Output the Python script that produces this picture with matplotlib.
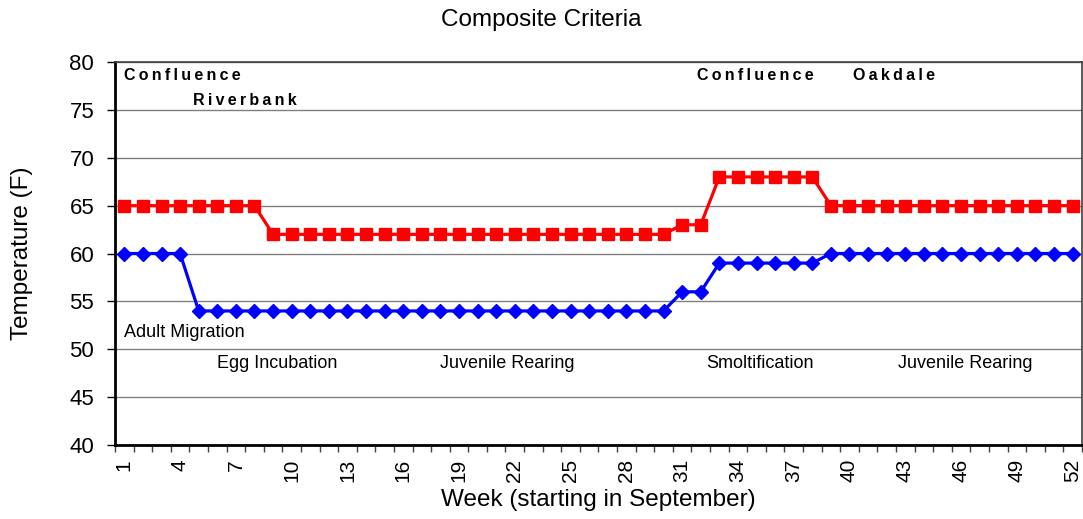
import matplotlib
matplotlib.use('Agg')
import matplotlib.pyplot as plt
from matplotlib.ticker import FixedLocator

plt.rcParams['font.family'] = ['Liberation Sans', 'DejaVu Sans']

# data
weeks = list(range(1, 53))
upper = [65] * 8 + [62] * 22 + [63] * 2 + [68] * 6 + [65] * 14
lower = [60] * 4 + [54] * 26 + [56] * 2 + [59] * 6 + [60] * 14
tick_weeks = list(range(1, 53, 3))

site_labels = [('Confluence', 1.0, 78.6), ('Riverbank', 4.7, 76.0),
               ('Confluence', 31.8, 78.6), ('Oakdale', 40.2, 78.6)]
stage_labels = [('Adult Migration', 1.0, 51.7), ('Egg Incubation', 6.0, 48.5),
                ('Juvenile Rearing', 18.0, 48.5), ('Smoltification', 32.3, 48.5),
                ('Juvenile Rearing', 42.6, 48.5)]

fig = plt.figure(figsize=(10.83, 5.19), dpi=100)
ax = fig.add_axes([0.1062, 0.1426, 0.8928, 0.7379])

ax.plot(weeks, upper, color='#ff0000', lw=2.3, marker='s', ms=9, mec='#ff0000', clip_on=False, zorder=3)
ax.plot(weeks, lower, color='#0000ff', lw=2.3, marker='D', ms=7.5, mec='#0000ff', clip_on=False, zorder=3)

ax.set_xlim(0.5, 52.5)
ax.set_ylim(40, 80)
ax.set_yticks(range(40, 81, 5))
ax.yaxis.grid(True, color='#808080', lw=1)
ax.set_axisbelow(True)

ax.xaxis.set_major_locator(FixedLocator(tick_weeks))
ax.set_xticklabels([str(w) for w in tick_weeks], rotation=90, fontsize=15)
ax.xaxis.set_minor_locator(FixedLocator([w + 0.5 for w in range(0, 53)]))
ax.tick_params(axis='x', which='major', length=0, pad=10)
ax.tick_params(axis='x', which='minor', length=5, width=1, color='#404040')
ax.tick_params(axis='y', length=6, width=1, pad=9, labelsize=16)

for s in ['left', 'bottom']:
    ax.spines[s].set_linewidth(2)
    ax.spines[s].set_color('black')
for s in ['top', 'right']:
    ax.spines[s].set_linewidth(1.2)
    ax.spines[s].set_color('#404040')

for txt, x, y in site_labels:
    ax.text(x, y, '\u2009'.join(txt), fontsize=11.5, fontweight='bold', va='center', ha='left')
for txt, x, y in stage_labels:
    ax.text(x, y, txt, fontsize=13, va='center', ha='left')

fig.text(0.5, 0.9615, 'Composite Criteria', fontsize=17.5, ha='center', va='center')
ax.set_xlabel('Week (starting in September)', fontsize=17.5, va='center')
ax.xaxis.set_label_coords(0.5, -0.1436)
ax.set_ylabel('Temperature (F)', fontsize=17.5, va='center')
ax.yaxis.set_label_coords(-0.0962, 0.5)

fig.savefig('out.png', dpi=100)
